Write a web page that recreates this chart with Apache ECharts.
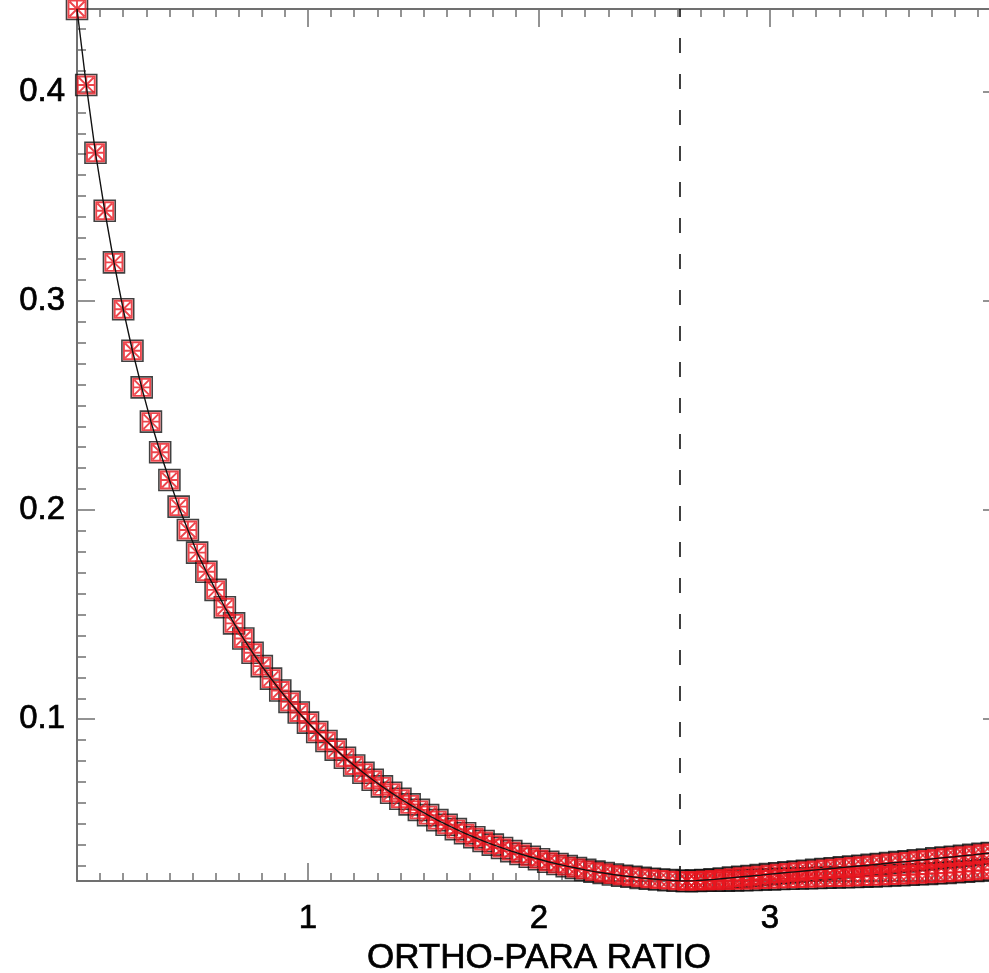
<!DOCTYPE html>
<html>
<head>
<meta charset="utf-8">
<script src="https://cdn.jsdelivr.net/npm/echarts@6/dist/echarts.min.js"></script>
<style>
html,body{margin:0;padding:0;background:#fff;}
#chart{width:989px;height:973px;}
</style>
</head>
<body>
<div id="chart"></div>
<script>
// ---- data ----
const orthoPara = [
  0.00,0.04,0.08,0.12,0.16,0.20,0.24,0.28,0.32,0.36,
  0.40,0.44,0.48,0.52,0.56,0.60,0.64,0.68,0.72,0.76,
  0.80,0.84,0.88,0.92,0.96,1.00,1.04,1.08,1.12,1.16,
  1.20,1.24,1.28,1.32,1.36,1.40,1.44,1.48,1.52,1.56,
  1.60,1.64,1.68,1.72,1.76,1.80,1.84,1.88,1.92,1.96,
  2.00,2.04,2.08,2.12,2.16,2.20,2.24,2.28,2.32,2.36,
  2.40,2.44,2.48,2.52,2.56,2.60,2.64,2.68,2.72,2.76,
  2.80,2.84,2.88,2.92,2.96,3.00,3.04,3.08,3.12,3.16,
  3.20,3.24,3.28,3.32,3.36,3.40,3.44,3.48,3.52,3.56,
  3.60,3.64,3.68,3.72,3.76,3.80,3.84,3.88,3.92,3.96
];
const upperValues = [
  0.4394,0.4031,0.3707,0.3430,0.3183,0.2959,0.2761,0.2586,0.2422,0.2276,
  0.2143,0.2016,0.1904,0.1796,0.1705,0.1618,0.1535,0.1458,0.1386,0.1318,
  0.1254,0.1194,0.1137,0.1083,0.1032,0.0984,0.0939,0.0896,0.0855,0.0816,
  0.0779,0.0744,0.0711,0.0679,0.0649,0.0620,0.0593,0.0567,0.0542,0.0518,
  0.0496,0.0475,0.0455,0.0436,0.0418,0.0401,0.0385,0.0370,0.0356,0.0343,
  0.0331,0.0319,0.0308,0.0298,0.0289,0.0280,0.0272,0.0265,0.0258,0.0252,
  0.0247,0.0242,0.0238,0.0234,0.0231,0.0228,0.0227,0.0229,0.0232,0.0235,
  0.0239,0.0243,0.0247,0.0251,0.0255,0.0260,0.0264,0.0268,0.0272,0.0276,
  0.0280,0.0284,0.0288,0.0292,0.0296,0.0300,0.0304,0.0308,0.0313,0.0317,
  0.0321,0.0326,0.0330,0.0335,0.0339,0.0343,0.0348,0.0352,0.0357,0.0361
];
// second row of markers visible right of the minimum (starts at x = 2.64)
const lowerStartIndex = 66;
const lowerValues = [
  0.0227,0.0227,0.0228,0.0228,0.0229,0.0230,0.0231,0.0232,0.0234,0.0235,
  0.0237,0.0238,0.0239,0.0240,0.0241,0.0243,0.0244,0.0245,0.0246,0.0248,
  0.0249,0.0251,0.0253,0.0255,0.0257,0.0259,0.0261,0.0264,0.0266,0.0269,
  0.0272,0.0275,0.0279,0.0283
];
const bestRatio = 2.61;
const xRange = [0, 4];
const yRange = [0.0227, 0.4394];
const xTickLabels = ['1', '2', '3'];
const xAxisTitle = 'ORTHO-PARA RATIO';

// ---- build ----
const upperData = orthoPara.map((x, i) => [x, upperValues[i]]);
const lowerData = lowerValues.map((v, i) => [orthoPara[lowerStartIndex + i], v]);

const RED = '#e8161f';
const BLACK = '#111111';
const AXIS_GRAY = '#707070';
const FONT = '"Liberation Sans", Arial, Helvetica, sans-serif';

const redSymbol = 'path://M0,0L20,0L20,20L0,20ZM10,0L10,20M0,10L20,10M1.5,1.5L18.5,18.5M18.5,1.5L1.5,18.5';
const blackSymbol = 'path://M0,0L20,0L20,20L0,20Z';

function blackSquares(data) {
  return {
    type: 'scatter', data: data, symbol: blackSymbol, symbolSize: 21,
    itemStyle: {color: 'rgba(0,0,0,0)', borderColor: BLACK, borderWidth: 1.6},
    z: 2, silent: true, clip: true
  };
}
function redMarkers(data) {
  return {
    type: 'scatter', data: data, symbol: redSymbol, symbolSize: 17,
    itemStyle: {color: 'rgba(0,0,0,0)', borderColor: RED, borderWidth: 1.9},
    z: 3, silent: true, clip: true
  };
}

const tickCommon = {show: true, inside: true, length: 18, lineStyle: {color: AXIS_GRAY, width: 1.5}};
const minorX = {show: true, splitNumber: 10, length: 8, lineStyle: {color: AXIS_GRAY, width: 1.5}};
const minorY = {show: true, splitNumber: 10, length: 9, lineStyle: {color: AXIS_GRAY, width: 1.5}};
const axisLineCommon = {show: true, onZero: false, lineStyle: {color: AXIS_GRAY, width: 2}};
const labelText = {color: '#000', fontFamily: FONT, textBorderColor: '#000', textBorderWidth: 0.7};

const chart = echarts.init(document.getElementById('chart'), null, {renderer: 'canvas'});
chart.setOption({
  animation: false,
  backgroundColor: '#fff',
  grid: {left: 77, top: 9, width: 924, height: 872, containLabel: false, outerBoundsMode: 'none'},
  xAxis: [{
    type: 'value', position: 'bottom', min: xRange[0], max: xRange[1], interval: 1,
    axisLine: axisLineCommon, axisTick: tickCommon, minorTick: minorX,
    splitLine: {show: false}, minorSplitLine: {show: false},
    axisLabel: Object.assign({
      show: true, margin: 21, fontSize: 33,
      showMinLabel: false, showMaxLabel: false,
      formatter: v => { const s = String(Math.round(v)); return xTickLabels.indexOf(s) >= 0 ? s : ''; }
    }, labelText),
    name: xAxisTitle, nameLocation: 'middle', nameGap: 59,
    nameTextStyle: Object.assign({fontSize: 35, verticalAlign: 'top'}, labelText)
  }, {
    type: 'value', position: 'top', min: xRange[0], max: xRange[1], interval: 1,
    axisLine: axisLineCommon, axisTick: tickCommon, minorTick: minorX,
    splitLine: {show: false}, axisLabel: {show: false}
  }],
  yAxis: [{
    type: 'value', position: 'left', min: yRange[0], max: yRange[1],
    minInterval: 0.1, maxInterval: 0.1, splitNumber: 5,
    axisLine: axisLineCommon, axisTick: tickCommon, minorTick: minorY,
    splitLine: {show: false}, minorSplitLine: {show: false},
    axisLabel: Object.assign({
      show: true, margin: 12, fontSize: 33,
      showMinLabel: false, showMaxLabel: false,
      formatter: v => v.toFixed(1)
    }, labelText)
  }, {
    type: 'value', position: 'right', min: yRange[0], max: yRange[1],
    minInterval: 0.1, maxInterval: 0.1, splitNumber: 5,
    axisLine: axisLineCommon, axisTick: tickCommon, minorTick: minorY,
    splitLine: {show: false}, axisLabel: {show: false}
  }],
  series: [
    blackSquares(upperData),
    blackSquares(lowerData),
    redMarkers(upperData),
    redMarkers(lowerData),
    {
      type: 'line', data: upperData, showSymbol: false, symbol: 'none',
      lineStyle: {color: BLACK, width: 1.4}, z: 4, silent: true, clip: true,
      markLine: {
        silent: true, symbol: 'none', label: {show: false},
        lineStyle: {color: BLACK, width: 1.6, type: [15, 21]},
        data: [{xAxis: bestRatio}]
      }
    }
  ]
});
</script>
</body>
</html>
